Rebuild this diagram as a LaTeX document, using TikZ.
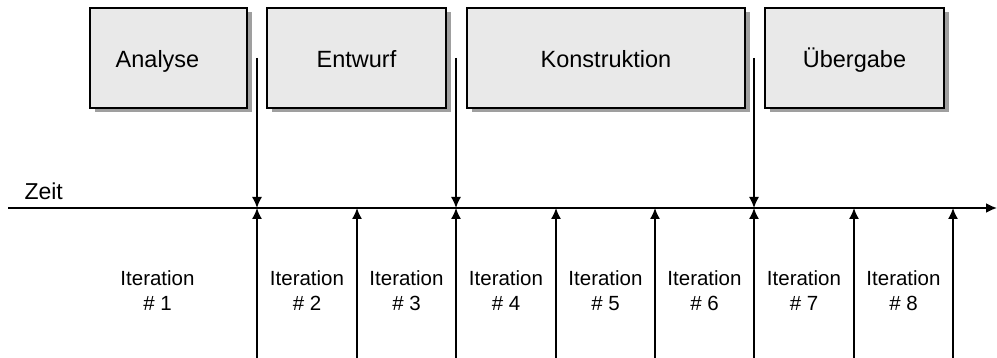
\documentclass[tikz,border=0pt]{standalone}
\usepackage{fontspec}
\setmainfont{Liberation Sans}
\usetikzlibrary{arrows.meta,shadows,calc}

\begin{document}
\begin{tikzpicture}[x=1pt, y=-1pt]

\tikzstyle{phase} = [rectangle, draw, line width=1.2pt, fill=gray!17,
minimum height=100pt, inner sep=0pt, text height=22pt, text depth=2pt,
font=\fontsize{23.5}{28}\selectfont,
drop shadow={shadow xshift=4.5pt, shadow yshift=-4.5pt, fill=gray!75, opacity=1}]
\tikzstyle{iter} = [align=center, font=\fontsize{20.5}{25}\selectfont]
\tikzstyle{line} = [draw, -{Latex[length=11pt, width=10pt]}, line width=1.5pt]

\useasboundingbox (0,0) rectangle (997,358);

% phases
\node [phase, minimum width=157pt] (analyse) at (168.5,58) {Analyse\hspace*{22pt}};
\node [phase, minimum width=179pt] (entwurf) at (356.5,58) {Entwurf};
\node [phase, minimum width=278pt] (konstr) at (606,58) {Konstruktion};
\node [phase, minimum width=179pt] (uebergabe) at (854.5,58) {\"Ubergabe};

% time axis
\coordinate (t0) at (8,208);
\coordinate (t1) at (997,208);
\path [line, line width=1.8pt] (t0) -- (t1);
\node [anchor=base west, font=\fontsize{23}{27}\selectfont] (zeit) at (21,200) {Zeit};

% phase boundaries
\foreach \x/\name in {257/b1, 456/b2, 754/b3} {
  \coordinate (\name-top) at (\x,58);
  \coordinate (\name) at (\x,208);
  \path [line] (\name-top) -- (\name);
}

% iterations
\foreach \x [count=\i] in {257,357,456,556,655,754,854,953} {
  \coordinate (i\i-bot) at (\x,358);
  \coordinate (i\i) at (\x,208);
  \path [line] (i\i-bot) -- (i\i);
}

\node [iter] (it1) at (157.5,291) {Iteration\\\# 1};
\foreach \a/\b/\n in {i1/i2/2, i2/i3/3, i3/i4/4, i4/i5/5, i5/i6/6, i6/i7/7, i7/i8/8}
  \node [iter] (it\n) at ($(\a)!0.5!(\b) + (0,83)$) {Iteration\\\# \n};

\end{tikzpicture}
\end{document}
